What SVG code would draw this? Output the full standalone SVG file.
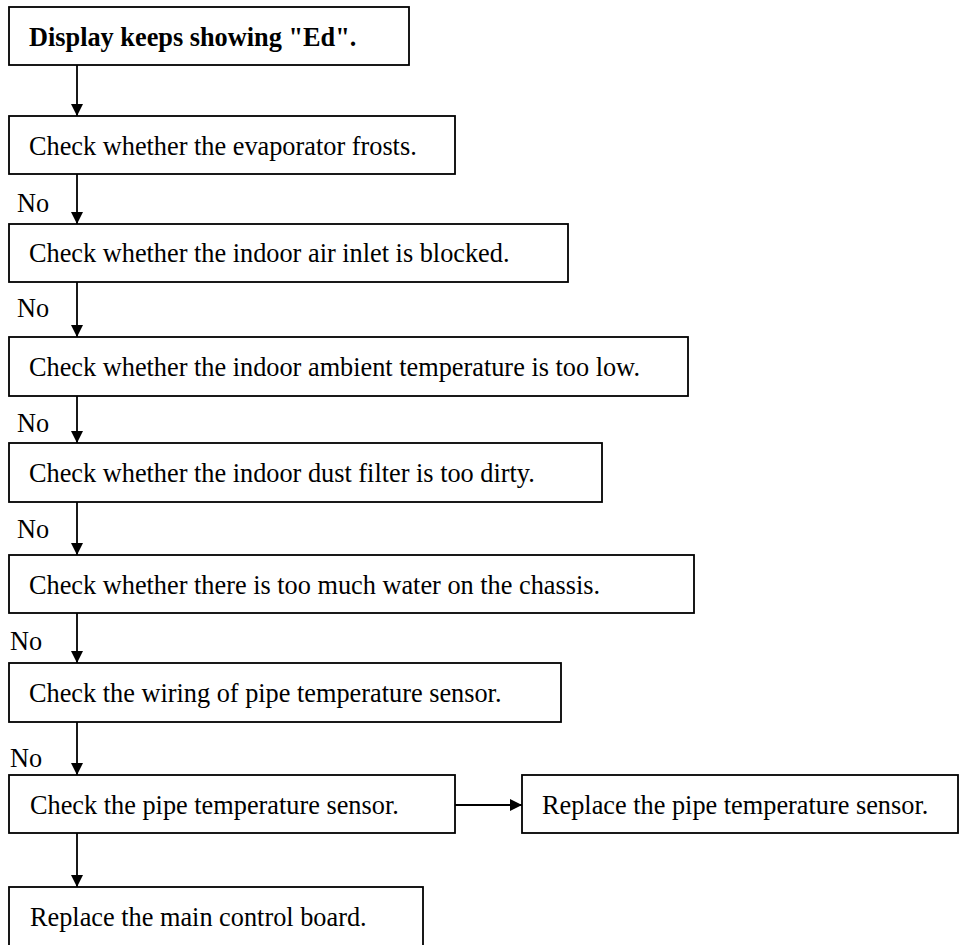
<svg xmlns="http://www.w3.org/2000/svg" width="971" height="945" viewBox="0 0 971 945">
<style>
.box{fill:#fff;stroke:#000;stroke-width:1.8}
.t{font-family:"Liberation Serif","Times New Roman",serif;font-size:26.3px;fill:#000}
.b{font-weight:bold}
.c{stroke:#000;stroke-width:1.8;fill:none}
</style>
<defs>
<marker id="ah" markerWidth="12" markerHeight="12" refX="12" refY="6" orient="auto" markerUnits="userSpaceOnUse">
<path d="M0,0 L12,6 L0,12 Z" fill="#000"/>
</marker>
</defs>
<rect width="971" height="945" fill="#fff"/>
<g id="connectors">
<line class="c" x1="77" y1="65" x2="77" y2="116" marker-end="url(#ah)"/>
<line class="c" x1="77" y1="174" x2="77" y2="224" marker-end="url(#ah)"/>
<line class="c" x1="77" y1="282" x2="77" y2="337" marker-end="url(#ah)"/>
<line class="c" x1="77" y1="396" x2="77" y2="443" marker-end="url(#ah)"/>
<line class="c" x1="77" y1="502" x2="77" y2="555" marker-end="url(#ah)"/>
<line class="c" x1="77" y1="613" x2="77" y2="663" marker-end="url(#ah)"/>
<line class="c" x1="77" y1="722" x2="77" y2="775" marker-end="url(#ah)"/>
<line class="c" x1="77" y1="833" x2="77" y2="887" marker-end="url(#ah)"/>
<line class="c" x1="455" y1="805" x2="522" y2="805" marker-end="url(#ah)"/>
<text class="t" x="17" y="212">No</text>
<text class="t" x="17" y="317">No</text>
<text class="t" x="17" y="432">No</text>
<text class="t" x="17" y="538">No</text>
<text class="t" x="10" y="650">No</text>
<text class="t" x="10" y="767">No</text>
</g>
<g id="n1"><rect class="box" x="9" y="7" width="400" height="58"/><text class="t b" x="29" y="46">Display keeps showing "Ed".</text></g>
<g id="n2"><rect class="box" x="9" y="116" width="446" height="58"/><text class="t" x="29" y="155">Check whether the evaporator frosts.</text></g>
<g id="n3"><rect class="box" x="9" y="224" width="559" height="58"/><text class="t" x="29" y="262">Check whether the indoor air inlet is blocked.</text></g>
<g id="n4"><rect class="box" x="9" y="337" width="679" height="59"/><text class="t" x="29" y="376">Check whether the indoor ambient temperature is too low.</text></g>
<g id="n5"><rect class="box" x="9" y="443" width="593" height="59"/><text class="t" x="29" y="482">Check whether the indoor dust filter is too dirty.</text></g>
<g id="n6"><rect class="box" x="9" y="555" width="685" height="58"/><text class="t" x="29" y="594">Check whether there is too much water on the chassis.</text></g>
<g id="n7"><rect class="box" x="9" y="663" width="552" height="59"/><text class="t" x="29" y="702">Check the wiring of pipe temperature sensor.</text></g>
<g id="n8"><rect class="box" x="9" y="775" width="446" height="58"/><text class="t" x="30" y="814">Check the pipe temperature sensor.</text></g>
<g id="n9"><rect class="box" x="522" y="775" width="436" height="58"/><text class="t" x="542" y="814">Replace the pipe temperature sensor.</text></g>
<g id="n10"><rect class="box" x="9" y="887" width="414" height="60"/><text class="t" x="30" y="926">Replace the main control board.</text></g>
</svg>
